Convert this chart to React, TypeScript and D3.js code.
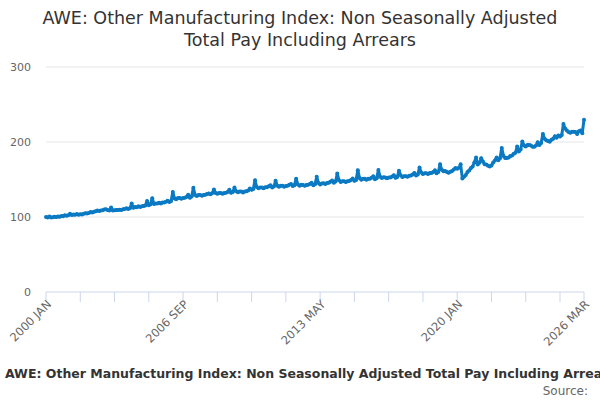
import * as d3 from 'd3';

const years = d3.range(2000, 2027);
const monthNames = ['JAN', 'FEB', 'MAR', 'APR', 'MAY', 'JUN', 'JUL', 'AUG', 'SEP', 'OCT', 'NOV', 'DEC'];

// monthly index, 2000 JAN .. 2026 MAR
const totalPay = [
	// 2000
	100.0, 99.4, 100.8, 99.2, 99.8, 100.4, 100.1, 100.6, 100.2, 101.2, 101.0, 102.3,
	// 2001
	101.6, 102.2, 104.2, 102.6, 103.3, 103.0, 103.9, 103.1, 103.7, 103.4, 104.4, 105.1,
	// 2002
	104.6, 105.3, 106.8, 105.9, 107.0, 107.6, 108.6, 108.0, 108.8, 109.1, 109.9, 110.4,
	// 2003
	109.2, 108.6, 112.6, 108.7, 108.9, 109.4, 109.2, 109.8, 109.4, 110.4, 110.7, 111.6,
	// 2004
	110.8, 111.7, 117.9, 112.3, 113.2, 113.0, 114.2, 113.4, 114.3, 114.6, 115.5, 121.2,
	// 2005
	115.8, 117.1, 125.0, 117.3, 118.1, 118.0, 119.1, 118.0, 119.2, 119.3, 120.4, 121.8,
	// 2006
	120.1, 121.3, 133.4, 124.8, 123.7, 125.4, 125.5, 124.4, 125.4, 125.7, 126.8, 129.8,
	// 2007
	125.7, 127.3, 139.0, 129.5, 128.1, 129.4, 129.3, 128.3, 129.4, 129.6, 130.7, 131.5,
	// 2008
	130.3, 131.8, 136.6, 132.1, 130.9, 132.1, 132.0, 130.9, 132.0, 132.2, 133.2, 136.2,
	// 2009
	132.2, 133.4, 139.2, 134.3, 132.9, 134.0, 134.0, 132.7, 133.9, 134.2, 135.4, 138.0,
	// 2010
	136.2, 137.5, 149.0, 139.9, 138.3, 139.5, 139.5, 138.4, 139.6, 139.8, 140.9, 142.3,
	// 2011
	139.3, 140.6, 148.2, 141.8, 140.5, 141.7, 141.6, 140.3, 141.5, 141.7, 142.9, 144.0,
	// 2012
	141.2, 142.5, 151.0, 143.3, 141.7, 142.9, 142.8, 141.6, 142.7, 143.0, 144.1, 145.6,
	// 2013
	142.2, 143.6, 153.6, 145.4, 143.5, 144.8, 144.9, 144.0, 145.4, 145.8, 147.1, 148.6,
	// 2014
	145.8, 147.3, 158.0, 149.0, 146.7, 147.8, 147.7, 146.6, 147.8, 148.1, 149.3, 151.2,
	// 2015
	148.2, 149.5, 162.5, 151.9, 149.8, 150.9, 150.9, 149.7, 150.9, 151.1, 152.3, 154.3,
	// 2016
	150.5, 151.8, 162.6, 153.7, 151.9, 152.9, 152.8, 151.6, 152.7, 152.8, 153.9, 155.8,
	// 2017
	152.2, 153.5, 161.6, 155.6, 153.2, 154.4, 154.5, 153.7, 155.1, 155.4, 156.7, 158.8,
	// 2018
	155.3, 156.7, 166.0, 159.2, 157.2, 158.3, 158.3, 157.3, 158.6, 158.8, 159.9, 162.2,
	// 2019
	158.5, 160.0, 170.5, 162.9, 160.9, 161.3, 160.1, 158.9, 160.3, 161.3, 163.3, 165.2,
	// 2020
	164.4, 165.7, 170.2, 151.5, 153.8, 155.9, 160.1, 162.1, 165.3, 167.3, 172.8, 179.3,
	// 2021
	170.1, 172.3, 178.5, 173.9, 170.2, 169.9, 168.5, 167.5, 168.7, 172.7, 175.5, 179.4,
	// 2022
	175.7, 178.5, 192.0, 181.5, 178.7, 178.8, 179.3, 181.3, 181.9, 184.3, 185.7, 194.0,
	// 2023
	187.2, 189.9, 200.8, 195.3, 193.9, 195.9, 196.1, 195.5, 193.7, 193.8, 195.3, 199.8,
	// 2024
	195.9, 198.8, 210.7, 204.3, 202.2, 201.3, 200.5, 202.9, 204.2, 207.8, 205.7, 208.8,
	// 2025
	207.2, 209.3, 224.0, 217.9, 215.2, 213.3, 212.3, 213.8, 213.7, 213.5, 210.7, 214.2,
	// 2026
	215.5, 211.8, 229.6,
];

const categories = years.flatMap((y) => monthNames.map((m) => `${y} ${m}`)).slice(0, totalPay.length);
const yTicks = [0, 100, 200, 300];
const labelledTicks = ['2000 JAN', '2006 SEP', '2013 MAY', '2020 JAN', '2026 MAR'];
const tickEvery = 20;

const titleLines = ['AWE: Other Manufacturing Index: Non Seasonally Adjusted', 'Total Pay Including Arrears'];
const footerTitle = 'AWE: Other Manufacturing Index: Non Seasonally Adjusted Total Pay Including Arrears';

export default function App() {
	const width = 600;
	const height = 400;
	const margin = {top: 67, right: 16, bottom: 108, left: 46};
	const font = '"DejaVu Sans", Verdana, sans-serif';

	const x = d3
		.scalePoint<string>()
		.domain(categories)
		.range([margin.left, width - margin.right]);
	const y = d3
		.scaleLinear()
		.domain([0, 300])
		.range([height - margin.bottom, margin.top]);

	const line = d3
		.line<number>()
		.x((_, i) => x(categories[i])!)
		.y((d) => y(d));

	const tickCats = categories.filter((_, i) => i % tickEvery === 0 || i === categories.length - 1);
	const axisY = y(0);

	return (
		<svg
			width={width}
			height={height}
			style={{position: 'absolute', left: 0, top: 0, background: '#fff', fontFamily: font}}
		>
			{titleLines.map((t, i) => (
				<text key={t} x={width / 2} y={24 + i * 22} textAnchor="middle" fontSize={17.5} fill="#333">
					{t}
				</text>
			))}

			{yTicks.map((t) => (
				<g key={t}>
					{t > 0 && (
						<line x1={margin.left} x2={width - margin.right} y1={y(t)} y2={y(t)} stroke="#e6e6e6" />
					)}
					<text x={31} y={y(t)} dy="0.35em" textAnchor="end" fontSize={11} fill="#666">
						{t}
					</text>
				</g>
			))}

			<line x1={margin.left} x2={width - margin.right} y1={axisY} y2={axisY} stroke="#ccd6eb" />
			{tickCats.map((c) => (
				<line key={c} x1={x(c)} x2={x(c)} y1={axisY} y2={axisY + 10} stroke="#ccd6eb" />
			))}
			{labelledTicks.map((c) => (
				<text
					key={c}
					transform={`translate(${x(c)! + 6},${axisY + 13}) rotate(-45)`}
					textAnchor="end"
					fontSize={11.5}
					fill="#666"
				>
					{c}
				</text>
			))}

			<path d={line(totalPay)!} fill="none" stroke="#0b7ac3" strokeWidth={3} strokeLinejoin="round" />
			{totalPay.map((v, i) => (
				<circle key={i} cx={x(categories[i])} cy={y(v)} r={2} fill="#0b7ac3" />
			))}

			<text x={5} y={378} fontSize={12.5} fontWeight="bold" fill="#333">
				{footerTitle}
			</text>
			<text x={588} y={395} textAnchor="end" fontSize={12} fill="#666">
				Source:
			</text>
		</svg>
	);
}
